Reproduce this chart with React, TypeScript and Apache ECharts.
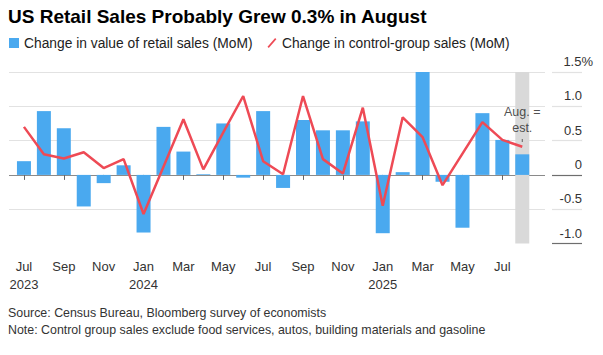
import React, { useEffect, useRef } from 'react';
import * as echarts from 'echarts';

// Monthly categories, Jul 2023 .. Aug 2025
const categories = [
  '2023-07', '2023-08', '2023-09', '2023-10', '2023-11', '2023-12',
  '2024-01', '2024-02', '2024-03', '2024-04', '2024-05', '2024-06',
  '2024-07', '2024-08', '2024-09', '2024-10', '2024-11', '2024-12',
  '2025-01', '2025-02', '2025-03', '2025-04', '2025-05', '2025-06',
  '2025-07', '2025-08',
];
const monthNames = ['Jan', 'Feb', 'Mar', 'Apr', 'May', 'Jun', 'Jul', 'Aug', 'Sep', 'Oct', 'Nov', 'Dec'];

// Change in value of retail sales (MoM, %)
const retailSales = [
  0.2, 0.93, 0.68, -0.46, -0.12, 0.14,
  -0.84, 0.7, 0.34, 0.01, 0.75, -0.04,
  0.93, -0.19, 0.8, 0.65, 0.65, 0.78,
  -0.85, 0.04, 1.52, -0.1, -0.77, 0.9,
  0.51, 0.3,
];
// Change in control-group sales (MoM, %)
const controlGroup = [
  0.7, 0.3, 0.24, 0.33, 0.1, 0.23,
  -0.57, 0.12, 0.81, 0.08, 0.62, 1.15,
  0.2, 0.01, 1.15, 0.23, 0.02, 0.98,
  -0.45, 0.84, 0.55, -0.15, 0.31, 0.77,
  0.51, 0.41,
];
const tickIndices = [0, 2, 4, 6, 8, 10, 12, 14, 16, 18, 20, 22, 24];
const yTicks = [-1.0, -0.5, 0, 0.5, 1.0, 1.5];
const estimateIndex = 25;
const estimateBand = [1.5, -1.0];
const estimateLabel = 'Aug. =\nest.';
const estimateLabelY = 0.8;
const estimateMarkY = 0.5;

const BAR_NAME = 'Change in value of retail sales (MoM)';
const LINE_NAME = 'Change in control-group sales (MoM)';
const FONT = '"Liberation Sans", Arial, Helvetica, sans-serif';

export default function App() {
  const ref = useRef<HTMLDivElement>(null);
  useEffect(() => {
    document.body.style.margin = '0';
    const chart = echarts.init(ref.current!, null, { renderer: 'svg' });
    const fmtX = (v: number) => {
      const c = categories[v];
      if (!c) return '';
      const [y, m] = c.split('-');
      const name = monthNames[parseInt(m, 10) - 1];
      return v === 0 || name === 'Jan' ? `${name}\n${y}` : name;
    };
    const fmtY = (v: number) => {
      const s = v === 0 ? '0' : v.toFixed(1);
      return v === yTicks[yTicks.length - 1] ? `{v|${s}}{p|%}` : `{n|${s}}`;
    };
    chart.setOption({
      animation: false,
      backgroundColor: '#fff',
      textStyle: { fontFamily: FONT },
      title: {
        text: 'US Retail Sales Probably Grew 0.3% in August',
        left: 8,
        top: 7,
        padding: 0,
        textStyle: { fontSize: 19, fontWeight: 'bold', color: '#000', fontFamily: FONT },
      },
      legend: {
        left: 9,
        top: 36,
        padding: 0,
        itemWidth: 10,
        itemHeight: 10,
        itemGap: 15,
        textStyle: { fontSize: 13.8, color: '#222', fontFamily: FONT },
        data: [
          { name: BAR_NAME, icon: 'rect', itemStyle: { color: '#4aa9ef' } },
          { name: LINE_NAME, icon: 'path://M0,10 L8.6,0 L10,1.3 L1.4,11.3 Z', itemStyle: { color: '#ee4a55' } },
        ],
      },
      graphic: [
        {
          type: 'text',
          left: 8,
          top: 304,
          style: {
            text: 'Source: Census Bureau, Bloomberg survey of economists\nNote: Control group sales exclude food services, autos, building materials and gasoline',
            fontSize: 12.4,
            lineHeight: 17,
            fill: '#333',
            fontFamily: FONT,
          },
        },
      ],
      grid: [
        { left: 9, right: 58, top: 72, bottom: 111.5 },
        { left: 552, right: 21, top: 72, bottom: 111.5 },
      ],
      xAxis: [
        {
          type: 'value',
          gridIndex: 0,
          min: -0.75,
          max: 26.14,
          offset: 2,
          axisLine: { show: false },
          splitLine: { show: false },
          axisTick: {
            show: true,
            customValues: tickIndices,
            length: 5,
            lineStyle: { color: '#666', width: 1 },
          },
          axisLabel: {
            customValues: tickIndices,
            formatter: fmtX,
            fontSize: 13,
            lineHeight: 18,
            margin: 12,
            color: '#333',
            fontFamily: FONT,
          },
        },
        { type: 'value', gridIndex: 1, min: 0, max: 1, show: false },
      ],
      yAxis: [
        {
          type: 'value',
          gridIndex: 0,
          position: 'right',
          min: -1,
          max: 1.5,
          interval: 0.5,
          axisLine: { show: false },
          axisTick: { show: false },
          splitLine: {
            show: true,
            lineStyle: {
              color: ['rgba(0,0,0,0)', '#e2e2e2', '#8a8a8a', '#e2e2e2', '#e2e2e2', '#e2e2e2'],
              width: 1,
            },
          },
          axisLabel: {
            formatter: fmtY,
            align: 'right',
            verticalAlign: 'bottom',
            margin: 48,
            color: '#333',
            fontFamily: FONT,
            rich: {
              v: { fontSize: 13, color: '#333', fontFamily: FONT, padding: [0, 0, 4, 0] },
              p: { fontSize: 13, color: '#333', fontFamily: FONT, padding: [0, 0, 4, 0] },
              n: { fontSize: 13, color: '#333', fontFamily: FONT, padding: [0, 11, 4, 0] },
            },
          },
        },
        {
          type: 'value',
          gridIndex: 1,
          min: -1,
          max: 1.5,
          interval: 0.5,
          axisLine: { show: false },
          axisTick: { show: false },
          axisLabel: { show: false },
          splitLine: {
            show: true,
            lineStyle: {
              color: ['#6e6e6e', '#e2e2e2', '#6e6e6e', '#e2e2e2', '#e2e2e2', '#e2e2e2'],
              width: 1.2,
            },
          },
        },
      ],
      series: [
        {
          name: 'estimate',
          type: 'bar',
          xAxisIndex: 0,
          yAxisIndex: 0,
          barWidth: 14,
          barGap: '-100%',
          silent: true,
          itemStyle: { color: '#d9d9d9' },
          data: estimateBand.map((v) => [estimateIndex, v]),
          z: 1,
        },
        {
          name: BAR_NAME,
          type: 'bar',
          xAxisIndex: 0,
          yAxisIndex: 0,
          barWidth: 14,
          barGap: '-100%',
          itemStyle: { color: '#4aa9ef' },
          data: retailSales.map((v, i) => [i, v]),
          z: 2,
        },
        {
          name: LINE_NAME,
          type: 'line',
          xAxisIndex: 0,
          yAxisIndex: 0,
          symbol: 'none',
          lineStyle: { color: '#ee4a55', width: 2.5 },
          itemStyle: { color: '#ee4a55' },
          data: controlGroup.map((v, i) => [i, v]),
          z: 3,
        },
        {
          name: 'estimate-label',
          type: 'scatter',
          xAxisIndex: 0,
          yAxisIndex: 0,
          symbolSize: 0,
          silent: true,
          data: [[estimateIndex, estimateLabelY]],
          label: {
            show: true,
            position: 'inside',
            formatter: estimateLabel,
            fontSize: 12.5,
            lineHeight: 16,
            color: '#222',
            fontFamily: FONT,
          },
          z: 4,
        },
        {
          name: 'estimate-mark',
          type: 'scatter',
          xAxisIndex: 0,
          yAxisIndex: 0,
          symbol: 'rect',
          symbolSize: [1, 3],
          silent: true,
          itemStyle: { color: '#444' },
          data: [[estimateIndex, estimateMarkY]],
          z: 4,
        },
        {
          name: 'right-lines',
          type: 'line',
          xAxisIndex: 1,
          yAxisIndex: 1,
          data: [],
        },
      ],
    });
    return () => chart.dispose();
  }, []);
  return (
    <div
      ref={ref}
      style={{ position: 'fixed', left: 0, top: 0, width: 603, height: 355, background: '#fff' }}
    />
  );
}
